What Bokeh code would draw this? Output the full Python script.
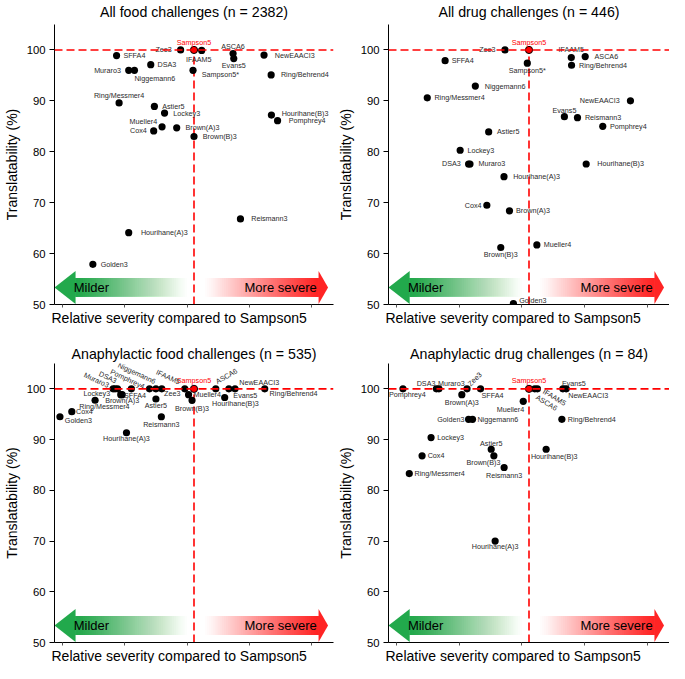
import numpy as np
from bokeh.plotting import figure
from bokeh.layouts import gridplot
from bokeh.models import ColumnDataSource, Range1d, FixedTicker, Span, Title
from bokeh.core.properties import value
from bokeh.embed import file_html
from bokeh.resources import INLINE

FONT = "Liberation Sans"
S = 0.977  # scale from reference pixels

# ---------------- data ----------------
titles = ["All food challenges (n = 2382)", "All drug challenges (n = 446)",
          "Anaphylactic food challenges (n = 535)", "Anaphylactic drug challenges (n = 84)"]
x_label = "Relative severity compared to Sampson5"
y_label = "Translatability (%)"
y_ticks = [50, 60, 70, 80, 90, 100]
x_ticks = [-0.945, -0.497, -0.05, 0.397, 0.844]

names1 = ["Sampson5", "Zee3", "IFAAM5", "ASCA6", "Evans5", "NewEAACI3", "SFFA4", "DSA3", "Muraro3",
          "Niggemann6", "Sampson5*", "Ring/Behrend4", "Ring/Messmer4", "Astier5", "Lockey3", "Mueller4",
          "Cox4", "Brown(A)3", "Brown(B)3", "Hourihane(B)3", "Pomphrey4", "Reismann3", "Hourihane(A)3", "Golden3"]
sev1 = [0, -0.096, 0.055, 0.28, 0.285, 0.502, -0.555, -0.31, -0.468, -0.427, -0.007, 0.553, -0.537, -0.284,
        -0.211, -0.229, -0.289, -0.124, 0.0, 0.555, 0.599, 0.333, -0.468, -0.725]
tr1 = [100, 100, 99.9, 99.3, 98.3, 99.0, 98.9, 97.1, 96.0, 96.0, 96.0, 95.1, 89.6, 88.9, 87.6, 84.9, 84.1,
       84.7, 83.0, 87.2, 86.1, 66.8, 64.1, 57.9]

names2 = ["Sampson5", "Zee3", "Sampson5*", "SFFA4", "IFAAM5", "ASCA6", "Ring/Behrend4", "Niggemann6",
          "Ring/Messmer4", "NewEAACI3", "Evans5", "Reismann3", "Pomphrey4", "Astier5", "Lockey3", "DSA3",
          "Muraro3", "Hourihane(A)3", "Hourihane(B)3", "Cox4", "Brown(A)3", "Brown(B)3", "Mueller4", "Golden3"]
sev2 = [0, -0.171, -0.012, -0.597, 0.301, 0.40, 0.303, -0.382, -0.724, 0.722, 0.252, 0.345, 0.525, -0.287,
        -0.49, -0.43, -0.42, -0.178, 0.407, -0.30, -0.139, -0.201, 0.056, -0.111]
tr2 = [100, 100, 97.4, 97.9, 98.5, 98.7, 97.0, 92.9, 90.6, 90.0, 86.9, 86.7, 85.0, 83.9, 80.3, 77.6, 77.6,
       75.1, 77.6, 69.5, 68.4, 61.2, 61.7, 50.2]

names3 = ["Sampson5", "Golden3", "Cox4", "Ring/Messmer4", "Lockey3", "Muraro3", "DSA3", "SFFA4", "Brown(A)3",
          "Pomphrey4", "Niggemann6", "Sampson5*", "Zee3", "IFAAM5", "ASCA6", "NewEAACI3", "Evans5",
          "Ring/Behrend4", "Mueller4", "Brown(B)3", "Hourihane(B)3", "Astier5", "Reismann3", "Hourihane(A)3"]
sev3 = [0, -0.961, -0.876, -0.709, -0.58, -0.566, -0.548, -0.525, -0.515, -0.449, -0.319, -0.273, -0.231,
        -0.066, 0.156, 0.25, 0.294, 0.507, -0.039, -0.014, 0.22, -0.273, -0.234, -0.484]
tr3 = [100, 94.5, 95.5, 97.75, 100, 100, 100, 98.85, 98.85, 100, 100, 100, 100, 100, 100, 100, 100, 100,
       98.85, 97.75, 98.3, 98.0, 94.5, 91.35]

names4 = ["Sampson5", "Pomphrey4", "DSA3", "Muraro3", "Brown(A)3", "Zee3", "SFFA4", "IFAAM5", "ASCA6", "Evans5",
          "NewEAACI3", "Mueller4", "Golden3", "Niggemann6", "Ring/Behrend4", "Lockey3", "Astier5", "Cox4",
          "Brown(B)3", "Hourihane(B)3", "Reismann3", "Ring/Messmer4", "Hourihane(A)3"]
sev4 = [0, -0.897, -0.659, -0.641, -0.478, -0.441, -0.345, 0.041, 0.06, 0.241, 0.265, -0.041, -0.43, -0.402,
        0.234, -0.697, -0.269, -0.761, -0.25, 0.122, -0.177, -0.852, -0.241]
tr4 = [100, 100, 100, 100, 98.85, 100, 100, 100, 100, 100, 100, 97.55, 94.0, 94.0, 94.0, 90.4, 88.1, 86.8,
       86.8, 88.1, 84.5, 83.3, 70.0]

# ---------------- label placement (layout, not data) ----------------
L1 = {"Sampson5": (0, -7.7, "center", 0), "Zee3": (-9, 0, "right", 0), "IFAAM5": (-3, 9, "center", 0),
      "ASCA6": (0, -6.7, "center", 0), "Evans5": (0, 6.7, "center", 0), "NewEAACI3": (11, 0, "left", 0),
      "SFFA4": (7, 0, "left", 0), "DSA3": (7, 0, "left", 0), "Muraro3": (-8, 0, "right", 0),
      "Niggemann6": (0, 8.7, "left", 0), "Sampson5*": (9, 4.7, "left", 0), "Ring/Behrend4": (10, 0, "left", 0),
      "Ring/Messmer4": (0, -7.4, "center", 0), "Astier5": (8, 0, "left", 0), "Lockey3": (9, 0, "left", 0),
      "Mueller4": (-5, -5, "right", 0), "Cox4": (-7, 0, "right", 0), "Brown(A)3": (9, 0, "left", 0),
      "Brown(B)3": (9, 0, "left", 0), "Hourihane(B)3": (10.5, -2, "left", 0), "Pomphrey4": (11.5, 0, "left", 0),
      "Reismann3": (11, 0, "left", 0), "Hourihane(A)3": (12.5, 0, "left", 0), "Golden3": (8, 0, "left", 0)}
L2 = {"Sampson5": (0, -7.7, "center", 0), "Zee3": (-9.6, 0, "right", 0), "Sampson5*": (0, 7.7, "center", 0),
      "SFFA4": (6.7, 0, "left", 0), "IFAAM5": (0, -8.3, "center", 0), "ASCA6": (9.6, 0, "left", 0),
      "Ring/Behrend4": (7.6, 0, "left", 0), "Niggemann6": (9.7, 0, "left", 0), "Ring/Messmer4": (7.3, 0, "left", 0),
      "NewEAACI3": (-11, 0, "right", 0), "Evans5": (0, -6.3, "center", 0), "Reismann3": (7.6, 0, "left", 0),
      "Pomphrey4": (7.3, 0, "left", 0), "Astier5": (8.6, 0, "left", 0), "Lockey3": (7.4, 0, "left", 0),
      "DSA3": (-8, 0, "right", 0), "Muraro3": (8.6, 0, "left", 0), "Hourihane(A)3": (9.4, 0, "left", 0),
      "Hourihane(B)3": (11.3, 0, "left", 0), "Cox4": (-5.4, 0, "right", 0), "Brown(A)3": (6.7, 0, "left", 0),
      "Brown(B)3": (0, 6.7, "center", 0), "Mueller4": (7, 0, "left", 0), "Golden3": (6, -2.7, "left", 0)}
L3 = {"Sampson5": (0, -9, "center", 0), "Golden3": (5, 3.6, "left", 0), "Cox4": (4.3, 0, "left", 0),
      "Ring/Messmer4": (9.5, 6.3, "center", 0), "Lockey3": (-3, 4.7, "right", 0),
      "Muraro3": (-19, -9, "center", -25), "DSA3": (-10, -12, "center", -25), "SFFA4": (3.3, 0.7, "left", 0),
      "Brown(A)3": (0, 6.4, "center", 0), "Pomphrey4": (-4, -10, "center", -25),
      "Niggemann6": (-13, -16, "center", -25), "Sampson5*": None, "Zee3": (2.3, 4.4, "left", 0),
      "IFAAM5": (-17, -12, "center", -25),
      "ASCA6": (11, -13, "center", 30), "NewEAACI3": (10.6, -6.3, "left", 0), "Evans5": (-1.7, 6.7, "left", 0),
      "Ring/Behrend4": (5, 4.7, "left", 0), "Mueller4": (5, 0, "left", 0), "Brown(B)3": (0, 8.3, "center", 0),
      "Hourihane(B)3": (11, 5.7, "center", 0), "Astier5": (0, 6.7, "center", 0), "Reismann3": (0, 8, "center", 0),
      "Hourihane(A)3": (0, 6, "center", 0)}
L4 = {"Sampson5": (0, -8.3, "center", 0), "Pomphrey4": (4.4, 6, "center", 0), "DSA3": (-1, -5.6, "right", 0),
      "Muraro3": (-1, -5.6, "left", 0), "Brown(A)3": (0, 8.4, "center", 0), "Zee3": (2, -4, "left", 45),
      "SFFA4": (1, 6.7, "left", 0), "IFAAM5": (9, 2, "left", -31), "ASCA6": (-1, 8, "left", -31),
      "Evans5": (-1, -5.6, "left", 0), "NewEAACI3": (2, 6.7, "left", 0), "Mueller4": (1, 8.3, "right", 0),
      "Golden3": (-4.3, 0, "right", 0), "Niggemann6": (5, 0, "left", 0), "Ring/Behrend4": (6, 0, "left", 0),
      "Lockey3": (6.4, 0, "left", 0), "Astier5": (0, -6, "center", 0), "Cox4": (5.7, 0, "left", 0),
      "Brown(B)3": (6.7, 7.3, "right", 0), "Hourihane(B)3": (8.3, 7.4, "center", 0),
      "Reismann3": (0, 8, "center", 0), "Ring/Messmer4": (5.3, 0, "left", 0), "Hourihane(A)3": (0, 6, "center", 0)}

GREEN = "#22a94c"
RED = "#ff2424"
REF = "Sampson5"


def fade_bar(p, x_solid, x_clear, y0, y1, color, n=60):
    xs = np.linspace(x_clear, x_solid, n + 1)
    A = (np.arange(n) + 1) / n
    prev = np.concatenate([[0.0], A[:-1]])
    a = 1 - (1 - A) / (1 - prev)
    starts = xs[:-1]
    left = np.minimum(starts, x_solid)
    right = np.maximum(starts, x_solid)
    p.quad(left=left, right=right, bottom=y0, top=y1, fill_color=color, fill_alpha=a, line_color=None)


def make_panel(title, names, sev, tr, lab, width, height, bl, br, bt, bb, standoff, valign):
    p = figure(width=width, height=height, x_range=Range1d(-1, 1), y_range=Range1d(50, 105),
               output_backend="svg", toolbar_location=None,
               min_border_left=bl, min_border_right=br, min_border_top=bt, min_border_bottom=bb)
    p.outline_line_color = None
    p.grid.visible = False
    p.background_fill_color = "white"
    p.title.text = title
    p.title.text_font = FONT
    p.title.text_font_size = "14.2px"
    p.title.text_font_style = "normal"
    p.title.text_color = "black"
    p.title.align = "center"
    p.title.offset = -8
    p.title.standoff = standoff
    p.title.vertical_align = valign

    # axes
    p.yaxis.ticker = FixedTicker(ticks=y_ticks)
    p.yaxis.axis_label = y_label
    p.xaxis.ticker = FixedTicker(ticks=x_ticks)
    for ax in (p.xaxis[0], p.yaxis[0]):
        ax.axis_line_color = "black"
        ax.major_tick_line_color = "black"
        ax.minor_tick_line_color = None
        ax.major_tick_in = 0
        ax.axis_label_text_font = FONT
        ax.axis_label_text_font_size = "14px"
        ax.axis_label_text_font_style = "normal"
        ax.axis_label_text_color = "black"
        ax.major_label_text_font = FONT
        ax.major_label_text_color = "black"
        ax.axis_label_standoff = 4
    p.yaxis.major_tick_out = 5
    p.yaxis.major_label_text_font_size = "11.3px"
    p.yaxis.major_label_standoff = 4
    p.xaxis.major_tick_out = 3
    p.xaxis.major_tick_line_color = "#555555"
    p.xaxis.major_label_text_font_size = "0px"
    p.xaxis.major_label_standoff = 0
    p.xaxis.major_label_overrides = {t: "" for t in x_ticks}

    xl = Title(text=x_label, align="left", offset=-3, standoff=0, text_font=FONT,
               text_font_size="14px", text_font_style="normal", text_color="black")
    p.add_layout(xl, "below")

    # arrows
    ymid, hb, ht, sb, st = 53.35, 50.1, 56.6, 51.5, 55.2
    fade_bar(p, -0.849, -0.05, sb, st, GREEN)
    p.patch([-1.0, -0.849, -0.849], [ymid, ht, hb], fill_color=GREEN, line_color=None)
    fade_bar(p, 0.893, 0.08, sb, st, RED)
    p.patch([0.961, 0.893, 0.893], [ymid, ht, hb], fill_color=RED, line_color=None)
    p.text(x=[-0.862], y=[ymid], text=["Milder"], text_font=value(FONT), text_font_size="13px",
           text_align="left", text_baseline="middle", text_color="black")
    p.text(x=[0.88], y=[ymid], text=["More severe"], text_font=value(FONT), text_font_size="13px",
           text_align="right", text_baseline="middle", text_color="black")

    # reference lines
    i0 = names.index(REF)
    x0, y0 = sev[i0], tr[i0]
    p.add_layout(Span(location=y0, dimension="width", line_color="red", line_dash="8 4", line_width=1.6))
    p.segment(x0=[x0], y0=[50], x1=[x0], y1=[y0], line_color="red", line_dash="8 4", line_width=1.6)

    # points
    spec = [lab[n] if lab[n] is not None else (0, 0, "left", 0) for n in names]
    shown = [n if lab[n] is not None else "" for n in names]
    dx = [s[0] * S for s in spec]
    dy = [s[1] * S for s in spec]
    al = [s[2] for s in spec]
    an = [s[3] for s in spec]
    col = ["red" if n == REF else "#2a2a2a" for n in names]
    src = ColumnDataSource(dict(x=sev, y=tr, name=shown, dx=dx, dy=dy, align=al, ang=an, col=col))
    others = [i for i, n in enumerate(names) if n != REF]
    p.scatter(x=[sev[i] for i in others], y=[tr[i] for i in others], size=7.2, fill_color="black",
              line_color=None)
    p.scatter(x=[x0], y=[y0], size=7.2, fill_color="red", line_color="black", line_width=1)
    p.text(x="x", y="y", text="name", source=src, x_offset="dx", y_offset="dy", text_align="align",
           text_baseline="middle", angle="ang", angle_units="deg", text_font=value(FONT),
           text_font_size="7.2px", text_color="col")
    return p


W1, W2 = 334, 335
H1, H2 = 332, 331
p1 = make_panel(titles[0], names1, sev1, tr1, L1, W1, H1, 49, 1, 24, 28, 6, "top")
p2 = make_panel(titles[1], names2, sev2, tr2, L2, W2, H1, 54, 0, 24, 28, 6, "top")
p3 = make_panel(titles[2], names3, sev3, tr3, L3, W1, H2, 49, 1, 31, 21, 4, "bottom")
p4 = make_panel(titles[3], names4, sev4, tr4, L4, W2, H2, 54, 0, 31, 21, 4, "bottom")

grid = gridplot([[p1, p2], [p3, p4]], toolbar_location=None)
open("out.html", "w").write(file_html(grid, INLINE))
